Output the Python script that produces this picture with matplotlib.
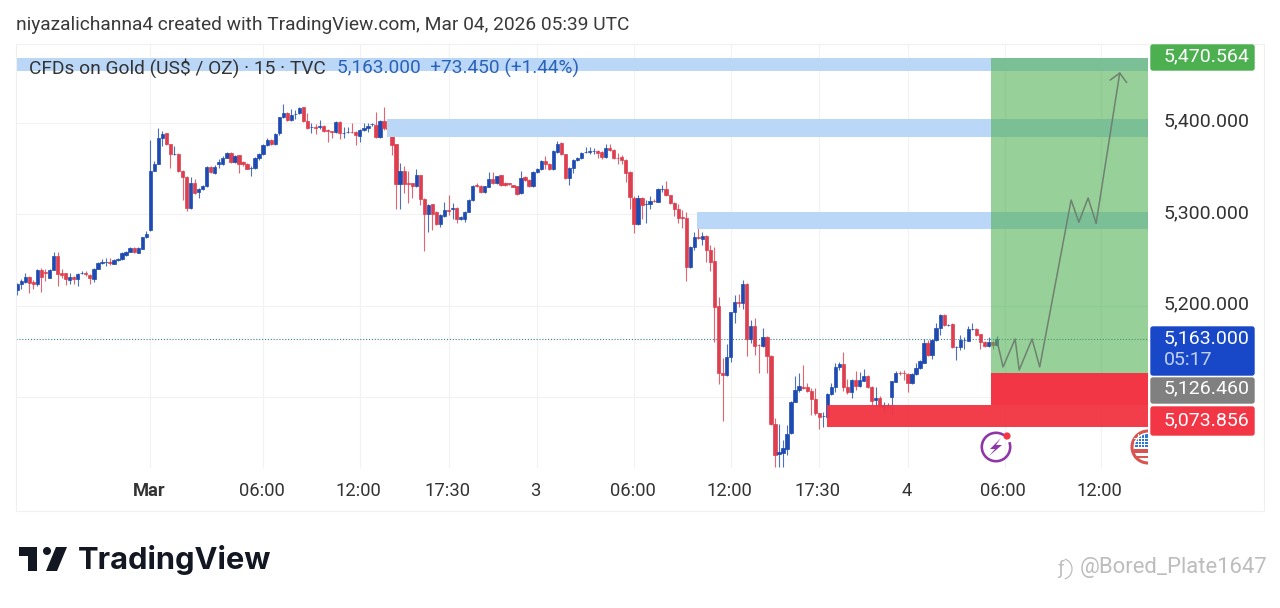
import numpy as np
import matplotlib
matplotlib.use("Agg")
import matplotlib.pyplot as plt
from matplotlib.patches import Arc, Circle, FancyBboxPatch, Polygon, Rectangle, Wedge
from matplotlib.transforms import ScaledTranslation

plt.rcParams['font.family'] = ['Roboto', 'DejaVu Sans']

# 15 minute candles
opens = [5217,5223,5226,5231,5226,5223,5239,5237,5230,5239,
    5254,5235,5235,5228,5231,5229,5235,5235,5233,5229,
    5240,5246,5247,5248,5245,5250,5251,5255,5259,5263,
    5257,5262,5274.5,5282,5347,5355,5383,5388,5376,5366,
    5366,5347,5340,5306.5,5334,5324.4,5327,5331,5351,5345,
    5355,5355,5361.5,5367,5356.5,5364,5356.5,5355,5350,5350,
    5361,5366,5375,5381,5376,5388,5405.6,5410,5403,5409,
    5410,5416.6,5402,5395,5395,5394.7,5396,5392,5390.5,5390,
    5401,5389,5390,5390,5390,5385.6,5392,5394,5398,5397,
    5384,5401.6,5393.6,5393.6,5376.5,5333,5347,5333.5,5333.5,5330.6,
    5342.6,5316,5300,5310.5,5302,5289,5298,5304,5305,5307,
    5294,5295,5302.5,5315,5331.5,5331,5324,5330,5338,5333.5,
    5342.6,5334,5333.5,5331.7,5330.6,5322.6,5340,5337,5330.6,5346,
    5349,5358,5355,5349,5368,5378,5365.5,5339,5350,5359,
    5361,5367.5,5368,5368.8,5369,5368,5362.7,5371.8,5370,5361.6,
    5362,5359,5346,5318,5288.7,5318,5311,5311,5314.6,5313.5,
    5327,5327,5320.4,5312,5305,5296.4,5296,5241.7,5264,5274.5,
    5273,5276,5260.6,5248.6,5199.5,5125.9,5124,5144,5192.5,5204,
    5203,5224,5163.4,5177.6,5156.8,5156,5165.2,5145,5070,5038,
    5039,5042.8,5061,5095,5107.6,5110.5,5110.5,5107,5097.4,5082,
    5079,5078.5,5103,5111,5133,5135.7,5111,5106,5118.6,5112,
    5117.8,5123,5111,5096.7,5098.5,5088.7,5090,5100,5116.7,5126.6,
    5126.4,5125,5115,5125,5132,5137.5,5158.6,5146,5162,5175,
    5190,5179,5179.8,5155,5155,5162,5161.6,5174,5174,5168.5,
    5160.5,5156,5160.5,5157]
closes = [5223,5227,5231,5225,5223,5239,5231,5235,5239,5254,
    5234,5233,5229,5231,5229,5234,5235,5234,5230,5240,
    5246,5248,5247,5246,5250,5251,5257,5259,5263,5258,
    5262.5,5274.5,5278,5347,5355,5383,5387,5376,5365.5,5366,
    5347,5340,5307,5334,5323,5327,5331,5351,5346,5351,
    5357,5361.5,5367,5356.5,5363,5355,5355,5349.5,5350,5361,
    5365.5,5375,5381,5376,5387,5405.6,5410,5403,5408,5409,
    5416,5402,5393.6,5395,5394.5,5396,5391,5391,5390,5401,
    5389,5389,5390,5389.5,5386,5392,5394,5396.5,5398,5384,
    5401.6,5393.6,5393,5375,5333,5347,5333,5333,5330.6,5342.6,
    5316,5300,5310,5300,5289,5299,5304,5303.5,5306.5,5295,
    5297,5302.5,5315,5331,5331,5324,5330.6,5338,5333.5,5341.5,
    5331.7,5331.7,5333,5330,5322,5339,5337,5330.6,5346,5349,
    5358,5355,5349,5369,5377,5365.5,5339,5350,5359,5361,
    5367,5368,5369,5369,5367,5362,5371.8,5370,5360.8,5360.8,
    5359,5345,5319,5288.7,5317,5310,5311,5314.6,5314,5327,
    5327,5320.4,5311.7,5305,5296,5296,5241.7,5263.6,5274.5,5274,
    5276,5260.6,5248,5198,5126.6,5124,5144,5192.5,5203.5,5203,
    5224,5163.4,5177.6,5156,5156.5,5165.2,5145,5070,5037,5040,
    5043.9,5060,5095,5107.6,5112,5110,5107,5097.4,5082,5078.5,
    5079,5103,5111,5133,5135.7,5110.5,5106,5118.6,5112,5118.6,
    5123,5111,5096,5098.5,5090,5091,5090,5117.5,5126,5126.4,
    5126,5115,5125,5132,5139,5158.6,5146,5162,5175,5190,
    5178.7,5179,5155,5155,5162,5162,5174,5174,5167.7,5160.5,
    5156,5160.5,5157,5163]
highs = [5225,5229,5236,5232,5228,5240,5241,5240,5240,5258,
    5258,5240,5236,5236,5232,5236,5238,5238,5234,5241,
    5248,5251,5252,5252,5251,5252,5258,5260,5264,5264,
    5264,5275,5281,5381,5358,5393.6,5391,5389,5377,5374,
    5367,5348,5341,5340,5338,5328,5332,5352,5352,5354,
    5360,5363,5368,5368,5364,5365,5358,5356,5352,5362,
    5367,5376,5383,5382,5388,5406,5420,5411,5415,5414,
    5417,5417,5410,5400,5398,5403,5397,5393,5391,5402,
    5402,5395,5395,5400,5391,5393,5399,5399,5400,5411,
    5403,5417,5395,5394,5377,5356,5352,5347,5334,5349,
    5343,5317,5311,5311,5303,5300,5313,5321,5312,5308,
    5298,5303,5316,5332,5333.5,5332,5331,5346,5346,5342,
    5343,5335,5334,5332,5331,5347,5341,5338,5347,5350,
    5359,5363,5356,5370,5380,5379,5366,5351,5360,5362,
    5368,5373,5373.5,5372,5370,5369,5376.5,5376,5371,5367,
    5364,5360,5347,5320,5320.8,5319,5315,5319.7,5316,5328,
    5331.7,5336,5321,5313,5311,5304,5302.5,5265,5280.7,5288.7,
    5280.7,5277,5266,5264,5209.6,5143,5158,5193,5211.5,5212.6,
    5228,5225,5184,5186,5158,5175.8,5166.6,5146,5076.7,5070,
    5053,5069.4,5096,5123,5125.9,5135,5115.7,5109.5,5109.5,5083,
    5084,5104,5115,5137.5,5138.6,5149.5,5120,5120,5128.8,5127.7,
    5130.6,5124,5112,5110.5,5101,5095,5093,5118,5128.8,5128.8,
    5129.5,5126,5126,5136.8,5140,5163,5162,5163,5180.5,5191,
    5191,5180,5181,5156,5167.7,5166,5177.6,5180.5,5175,5169,
    5161,5166,5161,5166.7]
lows = [5211,5218,5225,5214,5218,5221,5215,5227,5230,5239,
    5221,5230,5222,5224,5223,5221,5234,5232,5223,5226,
    5240,5245,5243,5244,5245,5249,5250,5254,5258,5257,
    5257,5262,5274,5281,5347,5355,5374,5375,5350,5365,
    5346,5315,5303,5306,5322,5317,5326,5330,5345,5344,
    5350,5354,5361,5356,5356,5345,5353,5349,5341.5,5349,
    5359,5365,5374,5375,5375,5386,5405,5402,5402,5404,
    5409,5401,5393,5388,5387,5393,5390,5379,5383,5389,
    5382,5383,5388,5388,5375,5379,5391,5390,5396,5383,
    5383,5392,5391,5364,5306,5306,5322.5,5312,5317,5330,
    5310,5260,5280.7,5282.5,5288,5286,5297,5299,5295,5290,
    5293,5291.6,5302,5314,5330,5323,5323,5329,5333,5333,
    5331,5331,5332,5329,5321,5322,5336,5330,5330,5345,
    5348,5349,5348,5348,5367,5365,5338,5331.7,5345,5358,
    5360,5367,5366,5366,5360.8,5360,5361,5369,5360,5355,
    5355,5335,5305,5279,5288,5295,5290.5,5305,5313,5313,
    5323.7,5320,5311,5297.8,5290.5,5284.3,5226.8,5241,5260.6,5273,
    5266,5248,5238,5160.5,5114,5074,5123,5138.6,5181,5198.7,
    5196,5145,5158.6,5146,5126.6,5155,5126,5069,5023.8,5023.8,
    5023.8,5036.6,5060,5094,5106,5109,5106,5080,5080,5064.6,
    5067,5078,5102,5106,5130,5107,5103,5098.5,5107.6,5111,
    5117,5110,5091,5090,5089,5084,5087.6,5080,5116,5124,
    5118.6,5106,5114,5124,5131,5137,5145,5142,5161,5167.7,
    5178,5178,5154,5140,5151,5152,5161,5173,5167,5152,
    5155,5155,5152.4,5156]

# axis labels, positions are bar numbers
time_ticks = [33, 61, 85, 107, 129, 153, 177, 199, 221, 245, 269]
time_labels = ["Mar", "06:00", "12:00", "17:30", "3", "06:00", "12:00", "17:30", "4", "06:00", "12:00"]
price_ticks = [5100, 5200, 5300, 5400]
price_labels = ["", "5,200.000", "5,300.000", "5,400.000"]

# drawings on the chart
last_price = 5163
zone_starts = [-0.3, 91.7, 168.7]
zone_tops = [5471, 5403.8, 5302.5]
zone_bottoms = [5456.6, 5383.8, 5283.3]
target_box = [241.6, 5471, 5126.46]
stop_box = [241.6, 5126.46, 5091.3]
lower_red = [201, 5091.3, 5067]
path_x = [243.1, 244.6, 247.6, 248.6, 251.8, 253.7, 261.5, 263.4, 265.7, 267.7, 273.6]
path_y = [5162, 5132.8, 5163.4, 5129.5, 5163.4, 5132.8, 5315.3, 5291, 5317.5, 5290, 5455.2]

BLUE = "#1E4BB2"
RED = "#DE3E4E"
ZONE = "#BBD7F7"
X_MAX = 280.57

fig = plt.figure(figsize=(12.8, 6.08), dpi=100, facecolor="white")
ax = fig.add_axes([16/1280, 1-468/608, (1148-16)/1280, (468-44)/608])
ax.set_xlim(-0.32, X_MAX)
ax.set_ylim(5022.4, 5485.8)

idx = np.arange(len(closes))
o = np.array(opens)
c = np.array(closes)
colors = [BLUE if b >= a else RED for a, b in zip(opens, closes)]
ax.vlines(idx, lows, highs, colors=colors, lw=0.8, alpha=0.8, zorder=2)
ax.bar(idx, np.abs(c-o), bottom=np.minimum(o, c), width=0.82, color=colors, edgecolor=colors, lw=0.5, zorder=2.5)

ax.axhline(last_price, color="#3f7f8c", lw=0.8, ls=(0, (1, 1.6)), zorder=1.5)

# blue zones, then the position boxes over them
for x0, top, bot in zip(zone_starts, zone_tops, zone_bottoms):
    ax.add_patch(Rectangle((x0, bot), X_MAX-x0, top-bot, color=ZONE, lw=0, zorder=3))
ax.add_patch(Rectangle((target_box[0], target_box[2]), X_MAX-target_box[0], target_box[1]-target_box[2],
                       color="#4CAF50", alpha=0.58, lw=0, zorder=4))
ax.add_patch(Rectangle((stop_box[0], stop_box[2]), X_MAX-stop_box[0], stop_box[1]-stop_box[2],
                       color="#F23645", lw=0, zorder=4))
ax.add_patch(Rectangle((lower_red[0], lower_red[2]), X_MAX-lower_red[0], lower_red[1]-lower_red[2],
                       color="#F23645", alpha=0.97, lw=0, zorder=4.2))

ax.plot(path_x[:-1], path_y[:-1], color="#6f8272", lw=1.1, zorder=5)
ax.annotate("", xy=(path_x[-1], path_y[-1]), xytext=(path_x[-2], path_y[-2]), zorder=5,
            arrowprops=dict(arrowstyle="->,head_length=0.6,head_width=0.6", color="#6f8272", lw=1.1, shrinkA=0, shrinkB=0))

ax.set_xticks(time_ticks)
ax.set_xticklabels(time_labels, fontsize=13.2, color="#333333")
ax.get_xticklabels()[0].set_fontweight("bold")
ax.set_yticks(price_ticks)
ax.set_yticklabels(price_labels, fontsize=14, color="#333333")
ax.yaxis.tick_right()
ax.tick_params(axis="x", length=0, pad=12)
ax.tick_params(axis="y", length=0, pad=11.5)
ax.grid(True, color="#F2F2F2", lw=0.8)
ax.set_axisbelow(True)
for s in ax.spines.values():
    s.set_visible(False)
for t in ax.get_xticklabels():
    t.set_transform(t.get_transform() + ScaledTranslation(-1.5/100, 3/100, fig.dpi_scale_trans))
for t in ax.get_yticklabels():
    t.set_transform(t.get_transform() + ScaledTranslation(0, 3/100, fig.dpi_scale_trans))

# everything else is placed in picture pixels
ov = fig.add_axes([0, 0, 1, 1], facecolor="none", zorder=10)
ov.set_xlim(0, 1280)
ov.set_ylim(608, 0)
ov.axis("off")

ov.add_patch(Rectangle((16, 44), 1248, 467, fill=False, ec="#F0F0F0", lw=0.8))
ov.text(16, 25.5, "niyazalichanna4 created with TradingView.com, Mar 04, 2026 05:39 UTC",
        fontsize=13.75, color="#3a3a3a", va="center")
ov.text(29, 68.5, "CFDs on Gold (US$ / OZ) · 15 · TVC", fontsize=13.8, color="#333333", va="center")
ov.text(337, 68.5, "5,163.000  +73.450 (+1.44%)", fontsize=13.7, color="#2962B8", va="center")

# price pills on the right
pills = [(44, 27, "#4CAF50", "5,470.564", 56), (326, 50, "#1848C8", "5,163.000", 338),
         (377, 27, "#808080", "5,126.460", 388), (406, 30, "#F23645", "5,073.856", 420)]
for top, h, col, txt, ty in pills:
    ov.add_patch(FancyBboxPatch((1151, top+1), 103, h-2, boxstyle="round,pad=0,rounding_size=2",
                                fc=col, ec=col, lw=1))
    ov.text(1164, ty, txt, fontsize=14, color="white", va="center")
ov.text(1164, 360, "05:17", fontsize=14, color="#C3D3F7", va="center")

# bolt icon
ov.add_patch(Wedge((996, 447), 15.5, -20, 305, width=2.6, color="#8E36A8", lw=0))
ov.add_patch(Circle((1007, 436), 3.6, color="#F23645", lw=0))
ov.add_patch(Polygon([(1001, 438), (990, 449), (995, 449), (989, 456), (1002, 445), (996, 445)], color="#8E36A8", lw=0))

# flag icon, cut off by the price scale
clip = Rectangle((1120, 425), 28, 45, transform=ov.transData)
parts = [Circle((1148, 447), 16, fc="white", ec="#D9534F", lw=2.2),
         Wedge((1148, 447), 13, 180, 270, color="#2E74D6", lw=0),
         Rectangle((1134, 449), 14, 4, color="#D9534F", lw=0),
         Rectangle((1134, 456), 14, 2, color="#D9534F", lw=0)]
for gx in [1138, 1141, 1144]:
    parts.append(Rectangle((gx, 434), 0.8, 13, color="white", lw=0))
for gy in [438, 441, 444]:
    parts.append(Rectangle((1134, gy), 14, 0.8, color="white", lw=0))
for p in parts:
    ov.add_patch(p)
    p.set_clip_path(clip)

# TradingView logo
ov.add_patch(Polygon([(19, 547), (37, 547), (37, 571), (28, 571), (28, 556), (19, 556)], color="#131722", lw=0))
ov.add_patch(Circle((47, 551), 4, color="#131722", lw=0))
ov.add_patch(Polygon([(56, 547), (67, 547), (57, 571), (46, 571)], color="#131722", lw=0))
ov.text(78, 560, "TradingView", fontsize=22.2, fontweight="bold", family=["Inter", "DejaVu Sans"],
        color="#131722", va="center")

# watermark
ov.text(1080, 568, "@Bored_Plate1647", fontsize=15.9, color="#bdbdbd", va="center")
ov.text(1061, 569, "ƒ", fontsize=14, color="#bdbdbd", va="center", ha="center")
ov.add_patch(Arc((1063, 569), 18, 20, theta1=-80, theta2=80, ec="#bdbdbd", lw=0.9))

fig.savefig("out.png", dpi=100)
